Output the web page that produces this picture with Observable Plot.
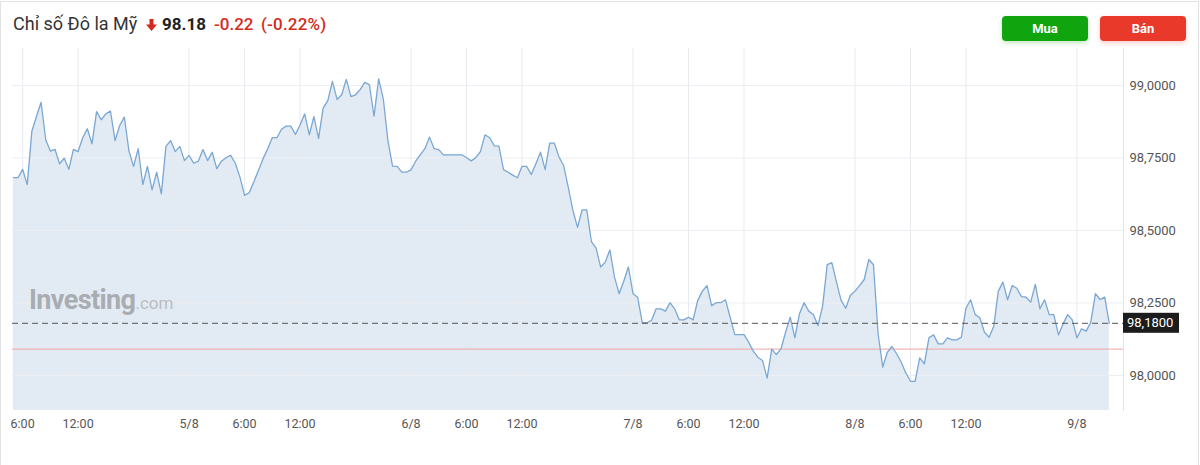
<!DOCTYPE html>
<html>
<head>
<meta charset="utf-8">
<script src="https://cdn.jsdelivr.net/npm/d3@7"></script>
<script src="https://cdn.jsdelivr.net/npm/@observablehq/plot@0.6"></script>
<style>
  html, body { margin: 0; padding: 0; background: #fff; }
  #wrap { position: relative; width: 1200px; height: 465px; overflow: hidden; font-family: Roboto, "Noto Sans", sans-serif; }
  #chart { position: absolute; left: 0; top: 0; }
  #frame { position: absolute; left: 0; top: 1px; width: 1199px; height: 480px; border: 1px solid #e2e2e2; box-sizing: border-box; pointer-events: none; }
  .h { position: absolute; line-height: 1; font-size: 17px; white-space: nowrap; top: 16px; }
  .title { left: 13px; color: #333; font-size: 18px; top: 15px; }
  .price { left: 162px; color: #222; font-weight: 700; }
  .chg { left: 214px; color: #d42a1e; font-weight: 500; }
  .pct { left: 261px; color: #d42a1e; font-weight: 500; letter-spacing: 0.2px; }
  .arrow { position: absolute; left: 146px; top: 19px; }
  .btn { position: absolute; top: 16px; height: 25px; width: 86px; border-radius: 4px; color: #fff; font-weight: 700; font-size: 13px; line-height: 25px; text-align: center; }
  .buy { left: 1002px; background: #10a40f; box-shadow: 0 2px 5px rgba(16,164,15,0.25); }
  .sell { left: 1100px; background: #e8392b; box-shadow: 0 2px 5px rgba(232,57,43,0.25); }
  .wm { position: absolute; left: 29px; top: 287px; line-height: 1; white-space: nowrap; pointer-events: none; }
  .wm .a { font-size: 27px; font-weight: 700; color: #a9adb2; letter-spacing: -0.6px; }
  .wm .b { font-size: 17px; font-weight: 400; color: #b9bdc2; }
</style>
</head>
<body>
<div id="wrap">
  <div id="chart"></div>
  <div class="wm"><span class="a">Investing</span><span class="b">.com</span></div>
  <span class="h title">Chỉ số Đô la Mỹ</span>
  <svg class="arrow" width="11" height="12" viewBox="0 0 11 12"><path d="M3.5 0h4v5.5h3.5l-5.5 6.5l-5.5-6.5h3.5z" fill="#d42a1e"/></svg>
  <span class="h price">98.18</span>
  <span class="h chg">-0.22</span>
  <span class="h pct">(-0.22%)</span>
  <div class="btn buy">Mua</div>
  <div class="btn sell">Bán</div>
  <div id="frame"></div>
</div>
<script>
// 30-minute closes of the US Dollar Index, starting 04/08 05:00
const startTime = "2025-08-04T05:00:00Z";
const stepMinutes = 30;
const values = [
  98.682, 98.682, 98.711, 98.658, 98.842, 98.893, 98.942, 98.813, 98.774, 98.780,
  98.730, 98.749, 98.711, 98.780, 98.772, 98.820, 98.851, 98.799, 98.910, 98.882,
  98.902, 98.912, 98.810, 98.862, 98.891, 98.774, 98.721, 98.782, 98.658, 98.721,
  98.640, 98.701, 98.626, 98.790, 98.810, 98.772, 98.790, 98.741, 98.759, 98.732,
  98.739, 98.779, 98.741, 98.770, 98.713, 98.739, 98.751, 98.759, 98.732, 98.684,
  98.621, 98.630, 98.667, 98.707, 98.747, 98.782, 98.820, 98.820, 98.849, 98.860,
  98.860,
  98.831, 98.864, 98.902, 98.830, 98.893, 98.818, 98.922, 98.948, 99.014, 98.952,
  98.968, 99.021, 98.962, 98.968, 98.986, 99.011, 99.002, 98.894, 99.023, 98.954,
  98.810, 98.722, 98.721, 98.701, 98.701, 98.709, 98.739, 98.761, 98.782, 98.822,
  98.782, 98.779, 98.761, 98.761, 98.761, 98.761, 98.761, 98.751, 98.740, 98.751,
  98.772, 98.830, 98.820, 98.792, 98.791, 98.710, 98.701, 98.691, 98.682, 98.721,
  98.721, 98.693, 98.730, 98.770, 98.710, 98.801, 98.801, 98.753, 98.724,
  98.649,
  98.569, 98.511, 98.571, 98.571, 98.462, 98.440, 98.374, 98.391, 98.433, 98.339,
  98.282, 98.325, 98.374, 98.282, 98.270, 98.182, 98.182, 98.190, 98.230, 98.230,
  98.222, 98.251, 98.230, 98.192, 98.192, 98.201, 98.192, 98.259, 98.291, 98.310,
  98.241, 98.251, 98.251, 98.261, 98.201, 98.141, 98.141, 98.141, 98.115, 98.084,
  98.063, 98.052, 97.991, 98.091, 98.072, 98.092, 98.149, 98.201, 98.130, 98.213,
  98.251, 98.222, 98.210, 98.172, 98.239, 98.382, 98.389, 98.322, 98.259, 98.232,
  98.276,
  98.291, 98.310, 98.331, 98.400, 98.382, 98.144, 98.029, 98.080, 98.100, 98.075,
  98.046, 98.009, 97.980, 97.980, 98.061, 98.040, 98.130, 98.140, 98.109, 98.109,
  98.130, 98.123, 98.123, 98.132, 98.232, 98.261, 98.210, 98.199, 98.149, 98.132,
  98.169, 98.291, 98.322, 98.261, 98.310, 98.301, 98.272, 98.270, 98.253, 98.314,
  98.230, 98.261, 98.210, 98.210, 98.140, 98.178, 98.210, 98.192, 98.130, 98.161,
  98.153, 98.184, 98.282, 98.262, 98.270, 98.18
];
const lastValue = 98.18;
const prevClose = 98.091;
const yTicks = [98.0, 98.25, 98.5, 98.75, 99.0];
const xTickTimes = [
  "2025-08-04T06:00:00Z", "2025-08-04T12:00:00Z",
  "2025-08-05T00:00:00Z", "2025-08-05T06:00:00Z", "2025-08-05T12:00:00Z",
  "2025-08-06T00:00:00Z", "2025-08-06T06:00:00Z", "2025-08-06T12:00:00Z",
  "2025-08-07T00:00:00Z", "2025-08-07T06:00:00Z", "2025-08-07T12:00:00Z",
  "2025-08-08T00:00:00Z", "2025-08-08T06:00:00Z", "2025-08-08T12:00:00Z",
  "2025-08-09T00:00:00Z"
];
const xTickLabels = [
  "6:00", "12:00", "5/8", "6:00", "12:00", "6/8", "6:00", "12:00",
  "7/8", "6:00", "12:00", "8/8", "6:00", "12:00", "9/8"
];

const t0 = +new Date(startTime);
const data = values.map((v, i) => ({ t: new Date(t0 + i * stepMinutes * 60000), v }));
const xTicks = xTickTimes.map(s => new Date(s));
const labelOf = new Map(xTicks.map((d, i) => [+d, xTickLabels[i]]));
const xDomain = [new Date("2025-08-04T04:54:30Z"), new Date("2025-08-09T05:02:00Z")];
const yDomain = [97.8793, 99.1276];
const fmt = d => d.toFixed(4).replace(".", ",");

function lastLabel(index, scales, values, dimensions) {
  const y = scales.y(lastValue);
  const x0 = dimensions.width - dimensions.marginRight;
  const g = d3.create("svg:g");
  g.append("rect").attr("x", x0).attr("y", y - 10).attr("width", 56).attr("height", 20).attr("fill", "#1c1c1c");
  g.append("text").attr("x", x0 + 4).attr("y", y).attr("dy", "0.36em").attr("text-anchor", "start")
    .attr("fill", "#fff").attr("font-size", 13).attr("font-family", "Roboto, sans-serif").text(fmt(lastValue));
  return g.node();
}

const chart = Plot.plot({
  width: 1200,
  height: 465,
  marginTop: 48,
  marginBottom: 55,
  marginLeft: 12,
  marginRight: 77,
  style: { fontFamily: "Roboto, sans-serif", fontSize: "13px", color: "#555", background: "transparent" },
  x: { type: "utc", domain: xDomain },
  y: { domain: yDomain },
  marks: [
    Plot.areaY(data, { x: "t", y1: yDomain[0], y2: "v", fill: "#e2ebf4" }),
    Plot.gridX(xTicks, { stroke: "#e7eaef", strokeOpacity: 1 }),
    Plot.gridY(yTicks, { stroke: "#eceef1", strokeOpacity: 1 }),
    Plot.ruleY([prevClose], { stroke: "#f2a3a3", strokeWidth: 1 }),
    Plot.lineY(data, { x: "t", y: "v", stroke: "#7ba8d3", strokeWidth: 1.3 }),
    Plot.ruleY([lastValue], { stroke: "#555", strokeDasharray: "6,4", strokeWidth: 1 }),
    Plot.frame({ anchor: "right", stroke: "#e1e4e8" }),
    Plot.axisY({ ticks: yTicks, anchor: "right", tickSize: 0, tickPadding: 6, textAnchor: "start", tickFormat: fmt, label: null }),
    Plot.axisX({ ticks: xTicks, tickSize: 0, tickPadding: 9, tickFormat: d => labelOf.get(+d), label: null, fontSize: 12.5 }),
    lastLabel
  ]
});
document.getElementById("chart").appendChild(chart);
</script>
</body>
</html>
